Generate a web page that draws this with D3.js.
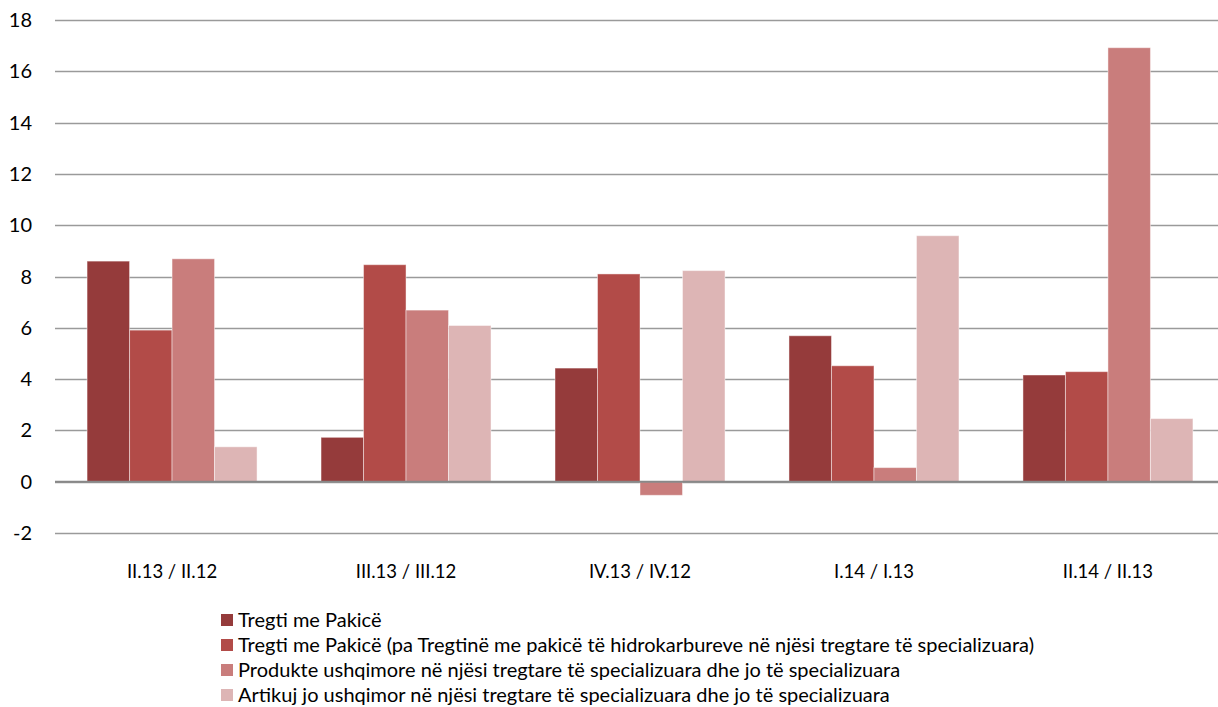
<!DOCTYPE html>
<html>
<head>
<meta charset="utf-8">
<script src="https://cdn.jsdelivr.net/npm/d3@7"></script>
<style>
  body { margin: 0; background: #fff; }
  svg { display: block; font-family: Lato, "Open Sans", sans-serif; }
</style>
</head>
<body>
<div id="chart"></div>
<script>
// --- Data ---
const categories = ['II.13 / II.12', 'III.13 / III.12', 'IV.13 / IV.12', 'I.14 / I.13', 'II.14 / II.13'];
const seriesNames = [
    'Tregti me Pakicë',
    'Tregti me Pakicë (pa Tregtinë me pakicë të hidrokarbureve në njësi tregtare të specializuara)',
    'Produkte ushqimore në njësi tregtare të specializuara dhe jo të specializuara',
    'Artikuj jo ushqimor në njësi tregtare të specializuara dhe jo të specializuara'
];
const retail = [8.6, 1.73, 4.43, 5.69, 4.16];
const retailNoFuel = [5.91, 8.46, 8.1, 4.52, 4.29];
const food = [8.69, 6.69, -0.53, 0.55, 16.92];
const nonFood = [1.36, 6.09, 8.23, 9.59, 2.46];
const yTicks = [-2, 0, 2, 4, 6, 8, 10, 12, 14, 16, 18];

const colors = ['#953b3b', '#b24b48', '#c97d7c', '#ddb5b5'];
const series = [retail, retailNoFuel, food, nonFood];

// --- Layout ---
const W = 1218, H = 707;
const plotLeft = 55, plotRight = 1218, plotTop = 20, plotBottom = 533;

const svg = d3.select('#chart').append('svg')
    .attr('width', W).attr('height', H);

const y = d3.scaleLinear().domain([-2, 18]).range([plotBottom, plotTop]);
// the category axis runs a little past the right edge of the picture
const x0 = d3.scaleBand().domain(categories).range([plotLeft, 1225]).paddingInner(0.2735).paddingOuter(0.137);
const x1 = d3.scaleBand().domain(d3.range(series.length)).range([0, x0.bandwidth()]);

// gridlines
svg.append('g').selectAll('line')
    .data(yTicks)
    .join('line')
    .attr('x1', plotLeft).attr('x2', plotRight)
    .attr('y1', d => Math.round(y(d)) + 0.5).attr('y2', d => Math.round(y(d)) + 0.5)
    .attr('stroke', '#9a9a9a')
    .attr('stroke-width', 1.3);

// y labels
svg.append('g').selectAll('text')
    .data(yTicks)
    .join('text')
    .attr('x', 32)
    .attr('y', d => y(d))
    .attr('dy', '0.35em')
    .attr('text-anchor', 'end')
    .attr('font-size', 20)
    .attr('fill', '#000')
    .text(d => d);

// bars
const groups = svg.append('g').selectAll('g')
    .data(categories)
    .join('g')
    .attr('transform', d => `translate(${x0(d)},0)`);

groups.selectAll('rect')
    .data((c, i) => series.map((s, k) => ({ k, v: s[i] })))
    .join('rect')
    .attr('x', d => x1(d.k))
    .attr('width', x1.bandwidth())
    .attr('y', d => y(Math.max(0, d.v)))
    .attr('height', d => Math.abs(y(d.v) - y(0)))
    .attr('fill', d => colors[d.k])
    .attr('stroke', 'rgba(255,255,255,0.45)')
    .attr('stroke-width', 1);

// zero line
svg.append('line')
    .attr('x1', plotLeft).attr('x2', plotRight)
    .attr('y1', y(0)).attr('y2', y(0))
    .attr('stroke', '#888')
    .attr('stroke-width', 2);

// category labels
svg.append('g').selectAll('text')
    .data(categories)
    .join('text')
    .attr('x', d => x0(d) + x0.bandwidth() / 2)
    .attr('y', 572)
    .attr('dy', '0.35em')
    .attr('text-anchor', 'middle')
    .attr('font-size', 18.5)
    .attr('fill', '#000')
    .text(d => d);

// legend
const legend = svg.append('g').attr('transform', 'translate(221,620)');
const item = legend.selectAll('g')
    .data(seriesNames)
    .join('g')
    .attr('transform', (d, i) => `translate(0,${i * 25})`);
item.append('rect')
    .attr('x', 0).attr('y', -6)
    .attr('width', 12).attr('height', 12)
    .attr('fill', (d, i) => colors[i]);
item.append('text')
    .attr('x', 17)
    .attr('dy', '0.35em')
    .attr('font-size', 20)
    .attr('fill', '#000')
    .text(d => d);
</script>
</body>
</html>
